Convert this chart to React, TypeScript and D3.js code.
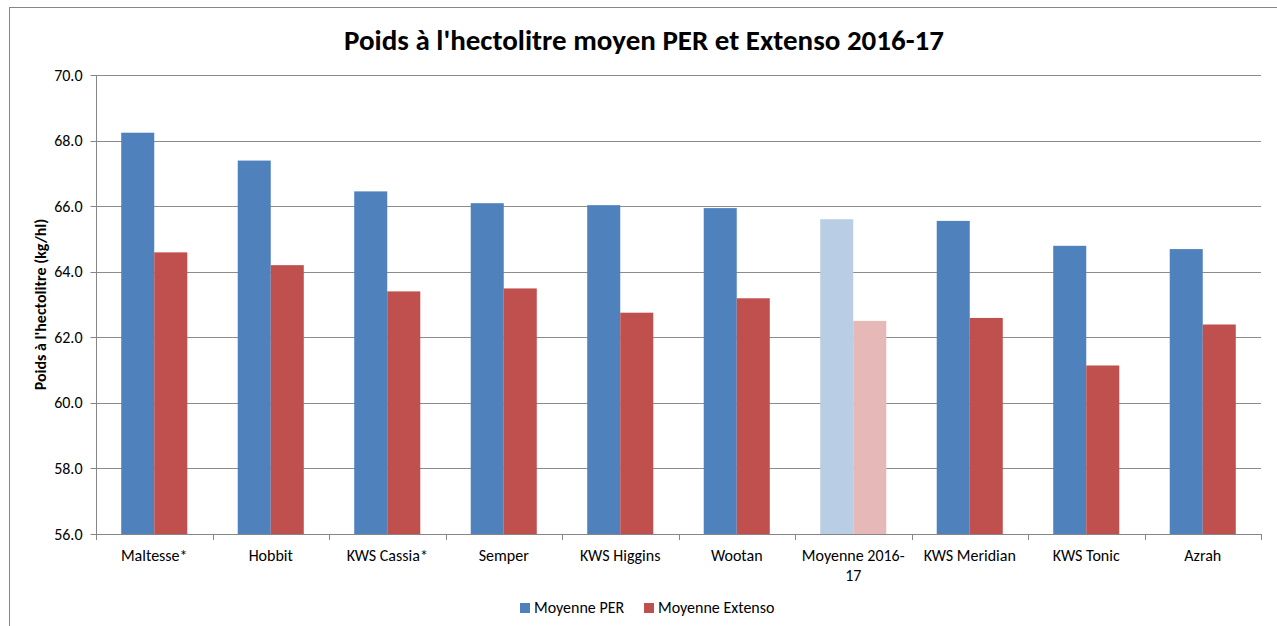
import { useEffect, useRef } from 'react'
import * as d3 from 'd3'

const categories = [
  'Maltesse*',
  'Hobbit',
  'KWS Cassia*',
  'Semper',
  'KWS Higgins',
  'Wootan',
  'Moyenne 2016-17',
  'KWS Meridian',
  'KWS Tonic',
  'Azrah'
]
const perValues = [68.24, 67.39, 66.45, 66.09, 66.03, 65.94, 65.6, 65.55, 64.79, 64.69]
const extensoValues = [64.59, 64.2, 63.4, 63.49, 62.75, 63.19, 62.5, 62.59, 61.14, 62.39]
const yTicks = [56, 58, 60, 62, 64, 66, 68, 70]
const seriesNames = ['Moyenne PER', 'Moyenne Extenso']

const W = 1277
const H = 626
const FONT = "Calibri, Carlito, 'Open Sans', sans-serif"

export default function App() {
  const svgRef = useRef<SVGSVGElement>(null)

  useEffect(() => {
    if (!svgRef.current) return
    const svg = d3.select(svgRef.current)
    svg.selectAll('*').remove()

    const plot = { left: 96, right: 1261, top: 75, bottom: 534 }

    // outer chart frame (cut by the window on right/bottom)
    svg.append('rect')
      .attr('x', 9.5).attr('y', 7.5)
      .attr('width', W + 20).attr('height', H + 20)
      .attr('fill', 'white').attr('stroke', '#868686')

    svg.append('text')
      .attr('x', 644).attr('y', 50)
      .attr('text-anchor', 'middle')
      .style('font-family', FONT)
      .style('font-weight', 'bold')
      .style('font-size', '29px')
      .text("Poids à l'hectolitre moyen PER et Extenso 2016-17")

    const x = d3.scaleBand<string>()
      .domain(categories)
      .range([plot.left, plot.right])
      .paddingInner(0.433)
      .paddingOuter(0.2165)

    const y = d3.scaleLinear().domain([56, 70]).range([plot.bottom, plot.top])

    // gridlines
    svg.append('g').selectAll('line')
      .data(yTicks.filter(t => t > 56))
      .join('line')
      .attr('x1', plot.left).attr('x2', plot.right)
      .attr('y1', d => Math.round(y(d)) + 0.5).attr('y2', d => Math.round(y(d)) + 0.5)
      .attr('stroke', '#8c8c8c').attr('stroke-width', 1)

    // bars
    const bw = x.bandwidth() / 2
    const groups = svg.append('g').selectAll('g')
      .data(categories)
      .join('g')
    groups.append('rect')
      .attr('x', d => x(d)!)
      .attr('y', (d, i) => y(perValues[i]))
      .attr('width', bw)
      .attr('height', (d, i) => plot.bottom - y(perValues[i]))
      .attr('fill', d => d.startsWith('Moyenne') ? '#B9CDE5' : '#4F81BD')
    groups.append('rect')
      .attr('x', d => x(d)! + bw)
      .attr('y', (d, i) => y(extensoValues[i]))
      .attr('width', bw)
      .attr('height', (d, i) => plot.bottom - y(extensoValues[i]))
      .attr('fill', d => d.startsWith('Moyenne') ? '#E6B9B8' : '#C0504D')

    // y axis
    const yAxis = svg.append('g').attr('transform', `translate(${plot.left + 0.5},0)`)
    yAxis.append('line')
      .attr('y1', plot.top).attr('y2', plot.bottom)
      .attr('stroke', '#868686')
    yAxis.selectAll('line.tick')
      .data(yTicks)
      .join('line')
      .attr('class', 'tick')
      .attr('x1', -6).attr('x2', 0)
      .attr('y1', d => Math.round(y(d)) + 0.5).attr('y2', d => Math.round(y(d)) + 0.5)
      .attr('stroke', '#868686')
    yAxis.selectAll('text')
      .data(yTicks)
      .join('text')
      .attr('x', -14).attr('y', d => y(d))
      .attr('dy', '0.35em')
      .attr('text-anchor', 'end')
      .style('font-family', FONT)
      .style('font-size', '16px')
      .text(d => d.toFixed(1))

    svg.append('text')
      .attr('transform', `translate(46,${(plot.top + plot.bottom) / 2}) rotate(-90)`)
      .attr('text-anchor', 'middle')
      .style('font-family', FONT)
      .style('font-weight', 'bold')
      .style('font-size', '16px')
      .text("Poids à l'hectolitre (kg/hl)")

    // x axis
    const xAxis = svg.append('g')
    xAxis.append('line')
      .attr('x1', plot.left).attr('x2', plot.right)
      .attr('y1', plot.bottom + 0.5).attr('y2', plot.bottom + 0.5)
      .attr('stroke', '#868686')
    const step = x.step()
    xAxis.selectAll('line.tick')
      .data(d3.range(categories.length + 1))
      .join('line')
      .attr('class', 'tick')
      .attr('x1', i => Math.round(plot.left + i * step) + 0.5)
      .attr('x2', i => Math.round(plot.left + i * step) + 0.5)
      .attr('y1', plot.bottom).attr('y2', plot.bottom + 6)
      .attr('stroke', '#868686')
    const labels = xAxis.selectAll('text')
      .data(categories)
      .join('text')
      .attr('x', d => x(d)! + x.bandwidth() / 2)
      .attr('y', 561)
      .attr('text-anchor', 'middle')
      .style('font-family', FONT)
      .style('font-size', '16px')
    labels.each(function (d) {
      const t = d3.select(this)
      if (d === 'Moyenne 2016-17') {
        t.append('tspan').attr('x', x(d)! + x.bandwidth() / 2).text('Moyenne 2016-')
        t.append('tspan').attr('x', x(d)! + x.bandwidth() / 2).attr('dy', 20).text('17')
      } else {
        t.text(d)
      }
    })

    // legend
    const legendColors = ['#4F81BD', '#C0504D']
    const legendX = [520, 644]
    const legend = svg.append('g')
    seriesNames.forEach((name, i) => {
      legend.append('rect')
        .attr('x', legendX[i]).attr('y', 603)
        .attr('width', 10).attr('height', 10)
        .attr('fill', legendColors[i])
      legend.append('text')
        .attr('x', legendX[i] + 14).attr('y', 613)
        .style('font-family', FONT)
        .style('font-size', '16px')
        .text(name)
    })
  }, [])

  return (
    <svg
      ref={svgRef}
      width={W}
      height={H}
      style={{ position: 'absolute', left: 0, top: 0, display: 'block', background: 'white' }}
    />
  )
}
